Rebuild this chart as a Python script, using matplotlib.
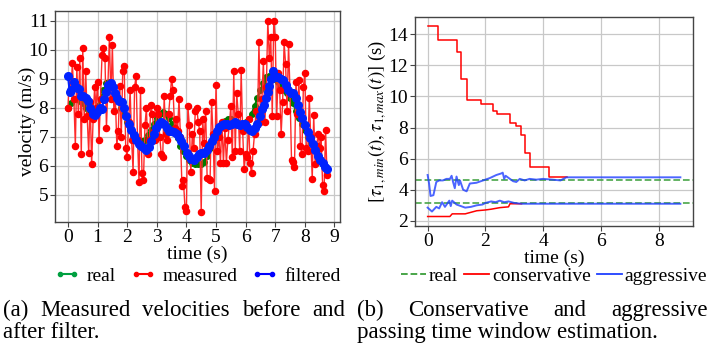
import numpy as np
import matplotlib
matplotlib.use("Agg")
import matplotlib.pyplot as plt
from matplotlib.lines import Line2D

plt.rcParams['font.family'] = ['Liberation Serif', 'DejaVu Serif']
plt.rcParams['mathtext.fontset'] = 'stix'
plt.rcParams['font.size'] = 14

# ---------------- data: left panel ----------------
dt_meas = 0.05
measured = [
    8.0, 9.1, 8.6, 9.55, 8.3, 6.7, 9.4, 7.8, 9.7, 6.4,
    10.05, 7.6, 9.25, 7.7, 6.45, 8.2, 6.05, 7.6, 8.7, 8.0,
    8.9, 6.9, 8.3, 9.8, 10.05, 9.7, 7.3, 8.8, 10.45, 8.3,
    10.15, 7.9, 8.4, 6.7, 7.2, 8.75, 7.0, 9.25, 9.45, 6.6,
    6.3, 7.5, 8.6, 6.9, 5.8, 8.7, 9.1, 6.9, 5.45, 8.6,
    5.75, 5.5, 7.4, 8.0, 6.4, 6.9, 8.1, 7.8, 7.2, 6.9,
    8.0, 7.8, 7.0, 6.4, 6.3, 8.4, 7.1, 6.9, 7.8, 8.4,
    9.0, 8.6, 7.3, 7.6, 7.2, 8.3, 7.0, 5.3, 5.5, 4.6,
    4.45, 8.05, 7.4, 5.8, 7.1, 6.6, 7.9, 8.0, 7.5, 7.2,
    4.4, 7.6, 6.8, 7.9, 5.6, 5.55, 5.5, 8.2, 7.1, 5.15,
    8.8, 6.5, 7.0, 6.1, 7.5, 6.1, 7.3, 6.1, 6.9, 7.4,
    8.05, 6.3, 9.25, 6.5, 8.5, 7.8, 6.5, 9.3, 7.2, 5.9,
    6.4, 6.3, 7.6, 6.1, 5.75, 6.5, 7.1, 7.9, 7.4, 10.25,
    7.5, 8.3, 9.6, 7.5, 8.7, 11.0, 9.7, 10.45, 7.7, 11.0,
    10.45, 7.7, 9.2, 8.6, 7.1, 8.2, 10.25, 9.5, 7.9, 10.2,
    8.5, 6.2, 6.15, 5.95, 8.9, 7.8, 8.95, 6.7, 6.4, 8.7,
    9.2, 6.6, 6.5, 8.35, 7.0, 5.55, 7.75, 6.05, 6.7, 7.1,
    6.6, 7.0, 5.35, 5.15, 7.25, 5.7,
]
dt_real = 0.1
real = [
    8.0, 8.15, 8.3, 8.3, 8.25, 8.15, 8.0, 7.9, 7.85, 7.9,
    8.05, 8.3, 8.6, 8.85, 8.9, 8.75, 8.5, 8.25, 8.0, 7.75,
    7.5, 7.3, 7.1, 7.0, 6.9, 6.85, 6.9, 7.05, 7.25, 7.45,
    7.65, 7.8, 7.85, 7.8, 7.65, 7.45, 7.2, 6.95, 6.7, 6.5,
    6.35, 6.2, 6.1, 6.05, 6.05, 6.05, 6.15, 6.35, 6.6, 6.85,
    7.1, 7.3, 7.45, 7.55, 7.6, 7.6, 7.55, 7.5, 7.45, 7.45,
    7.5, 7.6, 7.8, 8.05, 8.35, 8.6, 8.85, 9.05, 9.1, 9.1,
    9.0, 8.9, 8.75, 8.6, 8.5, 8.35, 8.15, 7.9, 7.65, 7.45,
    7.25, 7.0, 6.8, 6.6, 6.4, 6.25, 6.05, 5.9,
]
filt_t = [
    0.0, 0.06, 0.11, 0.19, 0.28, 0.36, 0.43, 0.51, 0.6, 0.68,
    0.76, 0.83, 0.91, 0.99, 1.08, 1.14, 1.22, 1.28, 1.36, 1.44,
    1.51, 1.59, 1.67, 1.74, 1.82, 1.9, 1.97, 2.05, 2.12, 2.22,
    2.31, 2.39, 2.47, 2.56, 2.64, 2.73, 2.81, 2.9, 2.99, 3.07,
    3.15, 3.24, 3.33, 3.41, 3.49, 3.58, 3.67, 3.75, 3.83, 3.92,
    4.01, 4.09, 4.17, 4.26, 4.35, 4.43, 4.51, 4.6, 4.69, 4.77,
    4.85, 4.94, 5.03, 5.11, 5.19, 5.28, 5.38, 5.45, 5.53, 5.63,
    5.72, 5.8, 5.88, 5.97, 6.06, 6.14, 6.22, 6.31, 6.4, 6.48,
    6.56, 6.63, 6.68, 6.74, 6.8, 6.85, 6.93, 7.01, 7.1, 7.19,
    7.27, 7.35, 7.44, 7.53, 7.61, 7.69, 7.76, 7.84, 7.92, 8.01,
    8.1, 8.18, 8.26, 8.35, 8.44, 8.52, 8.6, 8.67, 8.75,
]
filt_v = [
    9.1, 8.55, 8.6, 8.9, 8.7, 8.65, 8.4, 8.4, 8.35, 8.25,
    8.0, 7.8, 7.75, 7.85, 8.0, 7.95, 8.3, 8.55, 8.8, 8.85,
    8.7, 8.5, 8.35, 8.25, 8.2, 8.0, 7.7, 7.45, 7.25, 7.05,
    6.9, 6.75, 6.7, 6.6, 6.55, 6.65, 6.85, 7.1, 7.3, 7.45,
    7.5, 7.45, 7.3, 7.2, 7.2, 7.15, 7.1, 7.0, 6.85, 6.7,
    6.45, 6.35, 6.25, 6.2, 6.3, 6.4, 6.45, 6.45, 6.55, 6.7,
    6.85, 7.0, 7.2, 7.35, 7.4, 7.45, 7.45, 7.4, 7.45, 7.5,
    7.45, 7.4, 7.45, 7.45, 7.35, 7.25, 7.2, 7.3, 7.45, 7.7,
    7.95, 8.1, 8.35, 8.55, 8.75, 9.0, 9.25, 9.05, 9.05, 9.0,
    8.95, 8.8, 8.6, 8.5, 8.5, 8.35, 8.1, 7.85, 7.65, 7.4,
    7.15, 6.95, 6.75, 6.55, 6.35, 6.2, 6.1, 5.95, 5.9,
]

# ---------------- data: right panel ----------------
real_tau = [4.65, 3.15]
cons_up_t = [0, 0.37, 1.0, 1.14, 1.37, 1.86, 2.27, 2.4, 2.84, 3.07, 3.22, 3.38, 3.55, 4.2, 4.74, 4.82]
cons_up_v = [14.5, 13.6, 12.85, 11.15, 9.8, 9.5, 9.05, 8.9, 8.3, 8.1, 7.5, 6.35, 5.45, 4.85, 4.8, 4.8]
cons_lo_t = [0, 0.77, 0.85, 1.3, 1.5, 1.7, 2.0, 2.2, 2.5, 2.8, 2.85, 3.25]
cons_lo_v = [2.28, 2.28, 2.45, 2.45, 2.55, 2.65, 2.7, 2.75, 2.85, 2.9, 3.1, 3.1]
aggr_up_t = [0, 0.05, 0.1, 0.2, 0.3, 0.4, 0.53, 0.65, 0.77, 0.83, 0.88, 0.94, 1.0, 1.08, 1.12,
             1.23, 1.35, 1.46, 1.69, 1.92, 2.15, 2.38, 2.55, 2.6, 2.65, 2.7, 2.96, 3.07, 3.19,
             3.36, 3.53, 3.76, 3.99, 4.33, 4.6, 4.8, 8.75]
aggr_up_v = [4.95, 4.4, 3.6, 3.65, 4.5, 4.6, 4.6, 4.7, 4.7, 4.9, 4.5, 4.1, 4.85, 4.3, 4.6,
             4.0, 3.9, 4.4, 4.45, 4.6, 4.75, 4.95, 5.05, 5.1, 4.7, 4.9, 4.55, 4.5, 4.7,
             4.6, 4.7, 4.65, 4.7, 4.65, 4.6, 4.8, 4.8]
aggr_lo_t = [0, 0.15, 0.3, 0.4, 0.5, 0.6, 0.75, 0.8, 0.85, 1.0, 1.15, 1.3, 1.5, 1.7, 1.9,
             2.0, 2.2, 2.35, 2.5, 2.65, 2.8, 3.0, 3.25, 8.75]
aggr_lo_v = [2.85, 2.6, 2.9, 2.8, 3.2, 2.9, 3.3, 2.95, 3.3, 3.05, 2.95, 2.85, 2.9, 3.0, 3.05,
             3.15, 3.25, 3.2, 3.3, 3.2, 3.25, 3.15, 3.1, 3.1]

captions = [("(a) Measured velocities before and", "after filter."),
            ("(b) Conservative and aggressive", "passing time window estimation.")]

# ---------------- figure ----------------
fig = plt.figure(figsize=(7.1, 3.45), dpi=100)
W, H = 710, 345
def box(l, t, r, b):
    return [l / W, 1 - b / H, (r - l) / W, (b - t) / H]

ax1 = fig.add_axes(box(55, 11, 340, 222))
ax2 = fig.add_axes(box(415, 17, 693, 226))

FS = 14
for ax in (ax1, ax2):
    ax.grid(True, color='#c8c8c8', lw=0.9)
    ax.set_axisbelow(True)
    for s in ax.spines.values():
        s.set_color('#444444')
        s.set_linewidth(1.0)
    ax.tick_params(direction='out', length=3.5, width=0.8, color='#444444', labelsize=FS, pad=1.5)

t_meas = np.arange(len(measured)) * dt_meas
t_real = np.arange(len(real)) * dt_real

ax1.plot(t_real, real, color='#007a00', marker='o', ms=4, lw=1.5, label='real')
ax1.plot(t_meas, measured, color='#ff2a2a', marker='o', ms=4.4, lw=1.0,
         markerfacecolor='red', markeredgecolor='red', label='measured')
ax1.plot(filt_t, filt_v, color='#0022ff', marker='o', ms=5.5, lw=1.5, label='filtered')
ax1.set_xticks(range(0, 10))
ax1.set_yticks(range(5, 12))
ax1.set_xlabel('time (s)', fontsize=FS, labelpad=0)
ax1.set_ylabel('velocity (m/s)', fontsize=FS)
ax1.yaxis.set_label_coords(-0.068, 0.475)
h1 = [Line2D([], [], color='#00a040', marker='o', ms=3, lw=1.5),
      Line2D([], [], color='red', marker='o', ms=3, lw=1.5),
      Line2D([], [], color='blue', marker='o', ms=3, lw=1.5)]
ax1.legend(h1, ['real', 'measured', 'filtered'], loc='center',
           bbox_to_anchor=(0.5, -54 / 211), ncol=3, frameon=False, fontsize=FS,
           handlelength=1.35, handletextpad=0.35, columnspacing=0.7, borderaxespad=0,
           numpoints=2, borderpad=0)

for v in real_tau:
    ax2.axhline(v, color='#3a9e3a', ls='--', lw=1.3, alpha=0.85)
ax2.plot(cons_up_t, cons_up_v, color='red', lw=1.1, drawstyle='steps-post', label='conservative')
ax2.plot(cons_lo_t, cons_lo_v, color='red', lw=1.1)
ax2.plot(aggr_up_t, aggr_up_v, color='#1f3fff', lw=1.4, alpha=0.8, label='aggressive')
ax2.plot(aggr_lo_t, aggr_lo_v, color='#1f3fff', lw=1.4, alpha=0.8)
ax2.set_xticks([0, 2, 4, 6, 8])
ax2.set_yticks(range(2, 15, 2))
ax2.set_xlabel('time (s)', fontsize=FS, labelpad=0)
ax2.set_ylabel(r'$[\tau_{1,min}(t), \tau_{1,max}(t)]$ (s)', fontsize=13.5)
ax2.yaxis.set_label_coords(-0.095, 0.5)
h2 = [Line2D([], [], color='#3a9e3a', ls='--', lw=1.3),
      Line2D([], [], color='red', lw=1.3),
      Line2D([], [], color='#1f3fff', lw=1.3)]
ax2.legend(h2, ['real', 'conservative', 'aggressive'], loc='center',
           bbox_to_anchor=(0.5, -50 / 209), ncol=3, frameon=False, fontsize=FS,
           handlelength=1.3, handletextpad=0.15, columnspacing=0.3, borderaxespad=0,
           borderpad=0)

# captions (first line justified, second line ragged)
CFS = 16.5
renderer = fig.canvas.get_renderer()
def justified(x0, x1, y, line):
    words = line.split()
    ts = [fig.text(0, 1 - y / H, w, fontsize=CFS, va='baseline', ha='left') for w in words]
    widths = [t.get_window_extent(renderer).width for t in ts]
    gap = (x1 - x0 - sum(widths)) / (len(words) - 1)
    x = x0
    for t, w in zip(ts, widths):
        t.set_x(x / W)
        x += w + gap

cap_x = [(3, 345), (357, 708)]
for (l1, l2), (x0, x1) in zip(captions, cap_x):
    justified(x0, x1, 316, l1)
    fig.text(x0 / W, 1 - 338 / H, l2, fontsize=CFS, va='baseline', ha='left')

fig.savefig('out.png', dpi=100)
